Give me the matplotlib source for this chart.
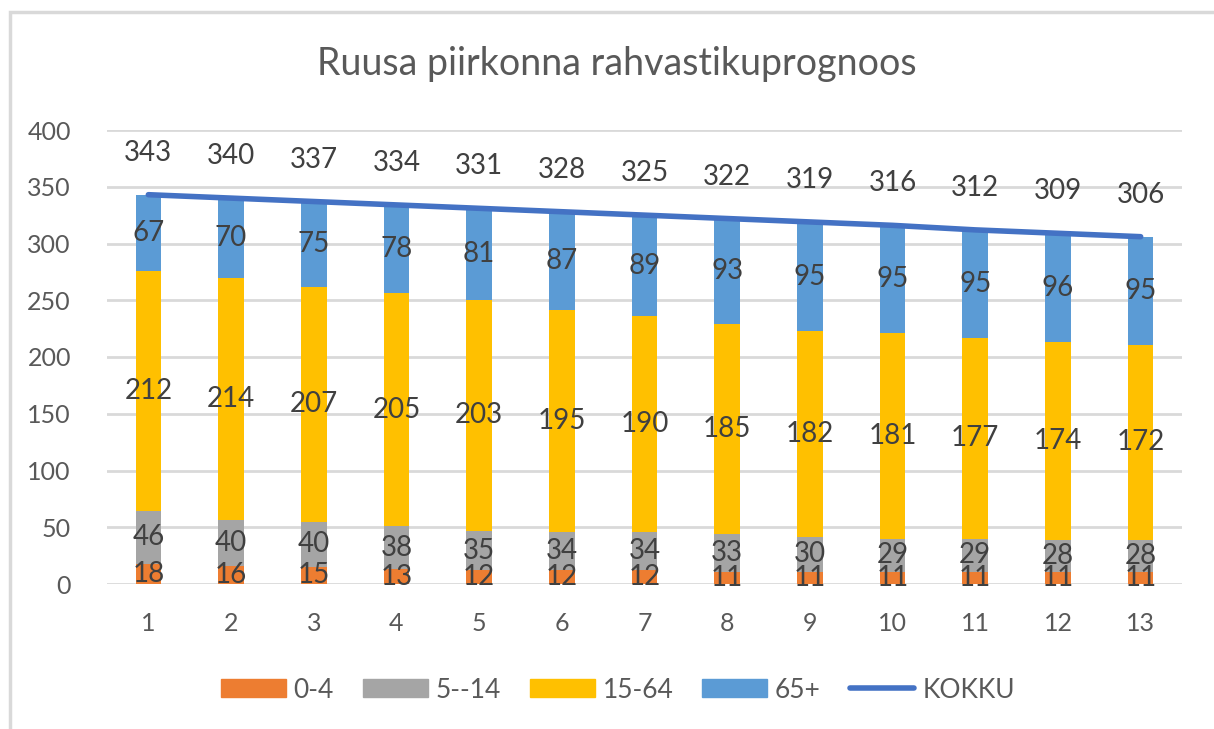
import matplotlib.pyplot as plt
from matplotlib.patches import Rectangle, Patch
from matplotlib.lines import Line2D
import numpy as np

plt.rcParams['font.family'] = ['Lato', 'DejaVu Sans']

years = ['1', '2', '3', '4', '5', '6', '7', '8', '9', '10', '11', '12', '13']
age_0_4 = [18, 16, 15, 13, 12, 12, 12, 11, 11, 11, 11, 11, 11]
age_5_14 = [46, 40, 40, 38, 35, 34, 34, 33, 30, 29, 29, 28, 28]
age_15_64 = [212, 214, 207, 205, 203, 195, 190, 185, 182, 181, 177, 174, 172]
age_65 = [67, 70, 75, 78, 81, 87, 89, 93, 95, 95, 95, 96, 95]
kokku = [343, 340, 337, 334, 331, 328, 325, 322, 319, 316, 312, 309, 306]

series = [('0-4', age_0_4, '#ED7D31'),
          ('5--14', age_5_14, '#A5A5A5'),
          ('15-64', age_15_64, '#FFC000'),
          ('65+', age_65, '#5B9BD5')]

txt = '#404040'
fig = plt.figure(figsize=(12.14, 7.29), dpi=100)
ax = fig.add_axes([107/1214, 1 - 584/729, 1075/1214, 454/729])

x = np.arange(1, len(years) + 1)
bottom = np.zeros(len(years))
for name, vals, col in series:
    vals = np.array(vals)
    ax.bar(x, vals, 0.31, bottom=bottom, color=col, zorder=2)
    for xi, b, v in zip(x, bottom, vals):
        ax.text(xi, b + v / 2, str(v), ha='center', va='center', fontsize=20, color=txt, zorder=4)
    bottom = bottom + vals

ax.plot(x, kokku, color='#4472C4', linewidth=4, solid_capstyle='round', zorder=3)
for xi, v in zip(x, kokku):
    ax.text(xi, v + 37, str(v), ha='center', va='center', fontsize=20, color=txt)

ax.set_xlim(0.5, 13.5)
ax.set_ylim(0, 400)
ax.set_yticks(range(0, 401, 50))
ax.set_xticks(x)
ax.set_xticklabels(years)
ax.tick_params(length=0, labelsize=18, labelcolor='#595959')
ax.tick_params(axis='x', pad=20)
ax.tick_params(axis='y', pad=26)
ax.grid(axis='y', color='#D9D9D9', linewidth=2, zorder=0)
ax.set_axisbelow(True)
for s in ax.spines.values():
    s.set_visible(False)

fig.text(0.508, 1 - 64/729, 'Ruusa piirkonna rahvastikuprognoos', ha='center', va='center',
         fontsize=27, color='#595959')

handles = [Patch(color=c, label=n) for n, _, c in series]
handles.append(Line2D([], [], color='#4472C4', linewidth=4, solid_capstyle='round', label='KOKKU'))
fig.legend(handles=handles, loc='center', bbox_to_anchor=(0.509, 1 - 690/729), ncol=5,
           frameon=False, fontsize=19, labelcolor='#595959', handlelength=2.45,
           handleheight=0.65, handletextpad=0.3, columnspacing=1.1)

# chart frame
fig.patches.append(Rectangle((10/1214, -0.1), 1.2, 1 - 12/729 + 0.1, transform=fig.transFigure,
                             fill=False, edgecolor='#D9D9D9', linewidth=2.5))

fig.savefig('out.png', dpi=100)
